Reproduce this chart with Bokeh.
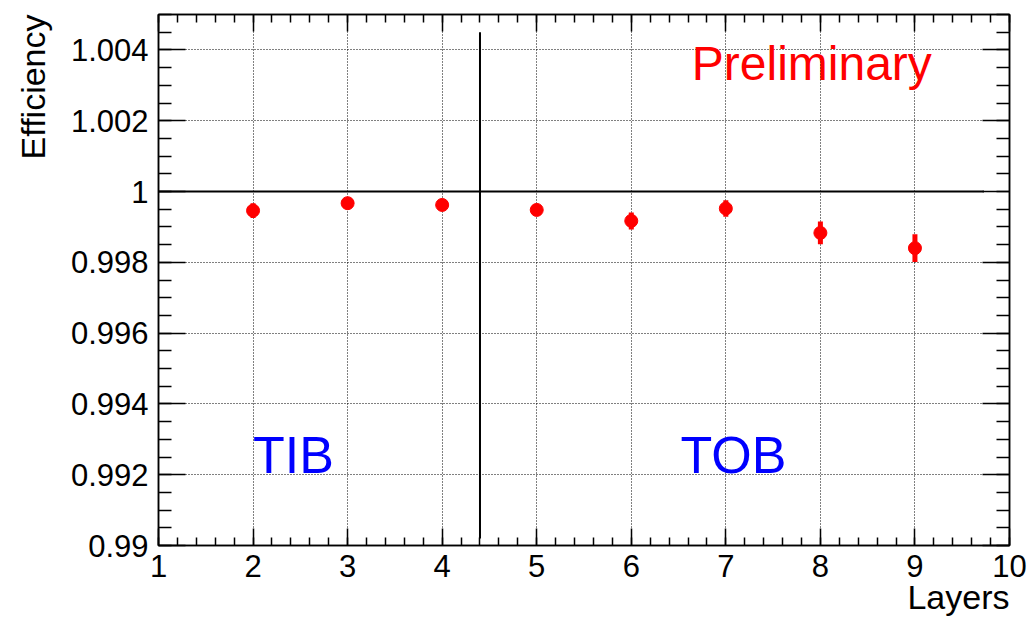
import numpy as np
from bokeh.plotting import figure
from bokeh.models import (Range1d, FixedTicker, LinearAxis, Label, ColumnDataSource,
                          Grid, CustomJSTickFormatter, Title)
from bokeh.embed import file_html
from bokeh.resources import INLINE

# ---- data ----
LAYERS = [2, 3, 4, 5, 6, 7, 8, 9]
EFFICIENCY = [0.99946, 0.99967, 0.99962, 0.99948, 0.99917, 0.99952, 0.99883, 0.99840]
EFF_ERR = [0.00021, 0.00010, 0.00015, 0.00012, 0.00024, 0.00023, 0.00032, 0.00039]

X_TICKS = [1, 2, 3, 4, 5, 6, 7, 8, 9, 10]
X_TICK_LABELS = ["1", "2", "3", "4", "5", "6", "7", "8", "9", "10"]
Y_TICKS = [0.99, 0.992, 0.994, 0.996, 0.998, 1.0, 1.002, 1.004]
Y_TICK_LABELS = ["0.99", "0.992", "0.994", "0.996", "0.998", "1", "1.002", "1.004"]

X_TITLE = "Layers"
Y_TITLE = "Efficiency"

# reference lines
HLINE_Y = 1.0
HLINE_X = [1.0, 9.73]
VLINE_X = 4.4
VLINE_Y = [0.9902, 1.0045]

FONT = "Liberation Sans"

src = ColumnDataSource(dict(
    x=LAYERS,
    y=EFFICIENCY,
    lo=[e - d for e, d in zip(EFFICIENCY, EFF_ERR)],
    hi=[e + d for e, d in zip(EFFICIENCY, EFF_ERR)],
))

p = figure(width=1029, height=619, output_backend="svg", toolbar_location=None,
           x_range=Range1d(1, 10), y_range=Range1d(0.99, 1.005),
           min_border_left=158, min_border_right=20, min_border_top=14, min_border_bottom=74,
           x_axis_type=None, y_axis_type=None)
p.outline_line_color = "black"
p.outline_line_width = 1.5
p.background_fill_color = "white"
p.border_fill_color = "white"

x_minor = list(np.round(np.arange(1.0, 10.0001, 0.2), 4))
y_minor = list(np.round(np.arange(0.99, 1.00501, 0.0005), 5))
xt = lambda: FixedTicker(ticks=X_TICKS, minor_ticks=x_minor)
yt = lambda: FixedTicker(ticks=Y_TICKS, minor_ticks=y_minor)

def style(ax, major, minor, labels):
    ax.axis_line_color = "black"
    ax.axis_line_width = 1.5
    ax.major_tick_line_color = "black"
    ax.minor_tick_line_color = "black"
    ax.major_tick_line_width = 1.5
    ax.minor_tick_line_width = 1.5
    ax.major_tick_in = major
    ax.major_tick_out = 0
    ax.minor_tick_in = minor
    ax.minor_tick_out = 0
    if labels:
        ax.major_label_text_font = FONT
        ax.major_label_text_font_size = "31px"
        ax.major_label_text_color = "black"
    else:
        ax.formatter = CustomJSTickFormatter(code="return ''")
        ax.major_label_standoff = 0

bx = LinearAxis(ticker=xt())
bx.major_label_overrides = {t: l for t, l in zip(X_TICKS, X_TICK_LABELS)}
style(bx, 17, 8, True)
bx.major_label_standoff = 9
p.add_layout(bx, "below")

ax_top = LinearAxis(ticker=xt())
style(ax_top, 17, 8, False)
p.add_layout(ax_top, "above")

ly = LinearAxis(ticker=yt())
ly.major_label_overrides = {t: l for t, l in zip(Y_TICKS, Y_TICK_LABELS)}
style(ly, 27, 13, True)
ly.major_label_standoff = 10
p.add_layout(ly, "left")

ry = LinearAxis(ticker=yt())
style(ry, 27, 13, False)
p.add_layout(ry, "right")

# axis titles (ROOT style: aligned to the axis end)
p.add_layout(Title(text=X_TITLE, align="right", text_font=FONT, text_font_size="34px",
                   text_font_style="normal", text_color="black", standoff=-7,
                   vertical_align="bottom"), "below")
p.add_layout(Title(text=Y_TITLE, align="right", text_font=FONT, text_font_size="34px",
                   text_font_style="normal", text_color="black", standoff=27,
                   vertical_align="top"), "left")

p.add_layout(Grid(dimension=0, ticker=xt(), grid_line_color="black",
                  grid_line_dash="1 2", grid_line_width=1))
p.add_layout(Grid(dimension=1, ticker=yt(), grid_line_color="black",
                  grid_line_dash="1 2", grid_line_width=1))

# reference lines
p.line(x=HLINE_X, y=[HLINE_Y, HLINE_Y], line_color="black", line_width=2)
p.line(x=[VLINE_X, VLINE_X], y=VLINE_Y, line_color="black", line_width=2)

# data
p.segment(x0="x", y0="lo", x1="x", y1="hi", source=src, line_color="red", line_width=5)
p.scatter(x="x", y="y", source=src, size=13, fill_color="red", line_color="red")

# texts
p.add_layout(Label(x=6.64, y=1.00362, text="Preliminary", text_color="red",
                   text_font=FONT, text_font_size="48px", text_baseline="alphabetic"))
p.add_layout(Label(x=2.0, y=0.99257, text="TIB", text_color="blue",
                   text_font=FONT, text_font_size="52px", text_baseline="alphabetic"))
p.add_layout(Label(x=6.52, y=0.99257, text="TOB", text_color="blue",
                   text_font=FONT, text_font_size="52px", text_baseline="alphabetic"))

open("out.html", "w").write(file_html(p, INLINE))
